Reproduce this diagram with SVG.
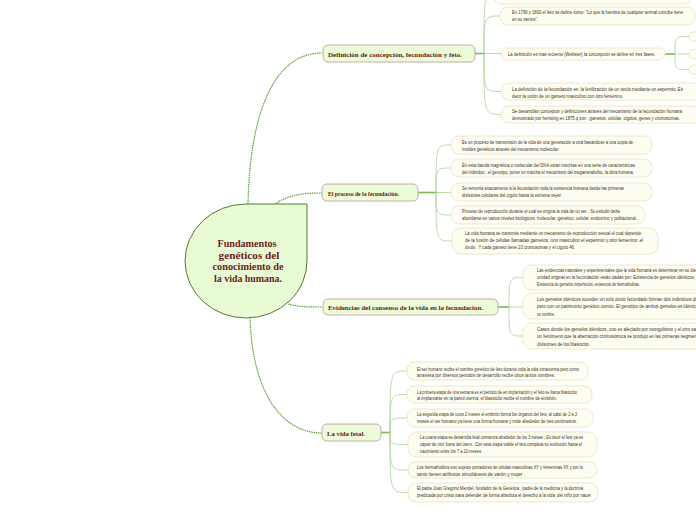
<svg xmlns="http://www.w3.org/2000/svg" width="696" height="520" viewBox="0 0 696 520">
<style>
.leaf{fill:#fdfdf1;stroke:#ebe2bd;stroke-width:0.8}
.lt{font-family:"Liberation Sans",Arial,sans-serif;font-size:4.6px;fill:#3e3228}
.topic{fill:#ecfbd8;stroke:#c4a0a0;stroke-width:0.9}
.tt{font-family:"Liberation Serif",serif;font-weight:bold;font-size:7px;fill:#5e1a1a}
.ct{font-family:"Liberation Serif",serif;font-weight:bold;font-size:10px;fill:#6a1e1e;text-anchor:middle}
.main{stroke:#5f9e43;stroke-width:1.2;stroke-dasharray:1.5 0.8;fill:none}
.stem{stroke:#7bbb50;stroke-width:1.6;fill:none}
.br{stroke:#aad38f;stroke-width:0.8;fill:none}
</style>
<g id="connectors">
<path class="main" d="M248,204 C250,110 275,53 322,53"/>
<path class="main" d="M275,204 C290,194 305,193 322,193"/>
<path class="main" d="M288,304 C300,307 310,307 322,307"/>
<path class="main" d="M250,317 C252,390 280,433 322,433"/>
<path class="stem" d="M475,53.5 H484"/>
<path class="stem" d="M418,192.5 H436"/>
<path class="stem" d="M498,307 H509"/>
<path class="stem" d="M381,432.5 H390"/>
<path class="stem" d="M665,54 H675"/>
<path class="br" d="M484,53.5 C484,-4 484,-4 494,-4"/>
<path class="br" d="M484,53.5 C484,16 484,16 500,16"/>
<path class="br" d="M484,53.5 H501"/>
<path class="br" d="M484,53.5 C484,91.5 484,91.5 501,91.5"/>
<path class="br" d="M484,53.5 C484,114.5 484,114.5 501,114.5"/>
<path class="br" d="M675,54 C675,36.5 675,36.5 689,36.5"/>
<path class="br" d="M675,54 H689"/>
<path class="br" d="M675,54 C675,69.5 675,69.5 689,69.5"/>
<path class="br" d="M436,192.5 C436,145 436,145 451,145"/>
<path class="br" d="M436,192.5 C436,168 436,168 451,168"/>
<path class="br" d="M436,192.5 H451"/>
<path class="br" d="M436,192.5 C436,215 436,215 451,215"/>
<path class="br" d="M436,192.5 C436,241 436,241 452,241"/>
<path class="br" d="M509,307 C509,277.5 509,277.5 523,277.5"/>
<path class="br" d="M509,307 H523"/>
<path class="br" d="M509,307 C509,336 509,336 523,336"/>
<path class="br" d="M390,432.5 C390,371 390,371 407,371"/>
<path class="br" d="M390,432.5 C390,394.5 390,394.5 407,394.5"/>
<path class="br" d="M390,432.5 C390,418 390,418 407,418"/>
<path class="br" d="M390,432.5 C390,444.5 390,444.5 408,444.5"/>
<path class="br" d="M390,432.5 C390,470 390,470 408,470"/>
<path class="br" d="M390,432.5 C390,492.5 390,492.5 408,492.5"/>
</g>
<g id="central">
<path d="M246,204 L307,204 L307,260 A61,57 0 1 1 246,204 Z" fill="#e8fbd5" stroke="#4f7d2f" stroke-width="1"/>
<text class="ct" x="247" y="247" textLength="59" lengthAdjust="spacingAndGlyphs">Fundamentos</text>
<text class="ct" x="249" y="258.5" textLength="61" lengthAdjust="spacingAndGlyphs">genéticos del</text>
<text class="ct" x="248" y="270" textLength="71" lengthAdjust="spacingAndGlyphs">conocimiento de</text>
<text class="ct" x="248" y="281.5" textLength="68" lengthAdjust="spacingAndGlyphs">la vida humana.</text>
</g>
<g id="topic1">
<rect class="topic" x="323" y="45" width="152" height="17" rx="5"/>
<text class="tt" x="328" y="56.5" textLength="134" lengthAdjust="spacingAndGlyphs">Definición de concepción, fecundación y feto.</text>
</g>
<g id="topic2">
<rect class="topic" x="322" y="184" width="96" height="17" rx="5"/>
<text class="tt" x="328" y="195.5" textLength="71" lengthAdjust="spacingAndGlyphs">El proceso de la fecundación.</text>
</g>
<g id="topic3">
<rect class="topic" x="323" y="299" width="175" height="16" rx="5"/>
<text class="tt" x="328" y="310" textLength="155" lengthAdjust="spacingAndGlyphs">Evidencias del consenso de la vida en la fecundación.</text>
</g>
<g id="topic4">
<rect class="topic" x="322" y="424" width="59" height="17" rx="5"/>
<text class="tt" x="327" y="435.5" textLength="38" lengthAdjust="spacingAndGlyphs">La vida fetal.</text>
</g>
<g id="n1a"><rect class="leaf" x="494" y="-12" width="197" height="16" rx="7"/></g>
<g id="n1b"><rect class="leaf" x="500" y="7" width="195" height="18" rx="8"/>
<text class="lt" x="512" y="14" textLength="171" lengthAdjust="spacingAndGlyphs">En 1790 y 1800 el feto se define como: "Lo que la hembra de cualquier animal concibe tiene</text>
<text class="lt" x="512" y="21" textLength="26" lengthAdjust="spacingAndGlyphs">en su vientre".</text></g>
<g id="n1c"><rect class="leaf" x="501" y="48" width="164" height="12" rx="6"/>
<text class="lt" x="508" y="55.5" textLength="147" lengthAdjust="spacingAndGlyphs">La definición es mas reciente (Webster) la concepción se define en tres fases.</text></g>
<g id="n1c1"><rect class="leaf" x="689" y="32" width="20" height="9" rx="4"/></g>
<g id="n1c2"><rect class="leaf" x="689" y="49.5" width="20" height="9" rx="4"/></g>
<g id="n1c3"><rect class="leaf" x="689" y="65" width="20" height="9" rx="4"/></g>
<g id="n1d"><rect class="leaf" x="501" y="83" width="200" height="17" rx="8"/>
<text class="lt" x="512" y="90.5" textLength="171" lengthAdjust="spacingAndGlyphs">La definición de la fecundación es: la fertilización de un óvulo mediante un espermio. Es</text>
<text class="lt" x="512" y="97.5" textLength="111" lengthAdjust="spacingAndGlyphs">decir la unión de un gameto masculino con otro femenino.</text></g>
<g id="n1e"><rect class="leaf" x="501" y="106" width="200" height="17" rx="8"/>
<text class="lt" x="512" y="113" textLength="170" lengthAdjust="spacingAndGlyphs">Se desarrollan conceptos y definiciones através del mecanismo de la fecundación humana</text>
<text class="lt" x="512" y="120" textLength="168" lengthAdjust="spacingAndGlyphs">demostrado por hertwing en 1875 q son : gametos, células, cigotos, genes y cromosomas.</text></g>
<g id="n2a"><rect class="leaf" x="451" y="136" width="201" height="18" rx="8"/>
<text class="lt" x="462" y="143.5" textLength="171" lengthAdjust="spacingAndGlyphs">Es un proceso de transmisión de la vida de una generación a otra basándose a una copia de</text>
<text class="lt" x="462" y="150.5" textLength="97" lengthAdjust="spacingAndGlyphs">moldes genéticos através del mecanismo molecular.</text></g>
<g id="n2b"><rect class="leaf" x="451" y="159" width="201" height="18" rx="8"/>
<text class="lt" x="462" y="166.5" textLength="173" lengthAdjust="spacingAndGlyphs">En esta banda magnética o molecular del DNA están inscritas en una serie de caracteristicas</text>
<text class="lt" x="462" y="173.5" textLength="172" lengthAdjust="spacingAndGlyphs">del individuo : el genotipo, poner en marcha el mecanismo del megametabolito, la obra humana.</text></g>
<g id="n2c"><rect class="leaf" x="451" y="183" width="201" height="18" rx="8"/>
<text class="lt" x="462" y="190" textLength="162" lengthAdjust="spacingAndGlyphs">Se remonta exactamente a la fecundación toda la existencia humana desde las primeras</text>
<text class="lt" x="462" y="197" textLength="100" lengthAdjust="spacingAndGlyphs">divisiones celulares del cigoto hasta la extrema vejez.</text></g>
<g id="n2d"><rect class="leaf" x="451" y="206" width="194" height="18" rx="8"/>
<text class="lt" x="462" y="213" textLength="158" lengthAdjust="spacingAndGlyphs">Proceso de reproducción durante el cual se origina la vida de un ser . Su estudio debe</text>
<text class="lt" x="462" y="220" textLength="175" lengthAdjust="spacingAndGlyphs">abordarse en varios niveles biológicos: molecular, genético, celular, endocrino y poblacional.</text></g>
<g id="n2e"><rect class="leaf" x="452" y="228" width="206" height="26" rx="9"/>
<text class="lt" x="465" y="235" textLength="176" lengthAdjust="spacingAndGlyphs">La vida humana se transmite mediante un mecanismo de reproducción sexual el cual depende</text>
<text class="lt" x="465" y="242" textLength="178" lengthAdjust="spacingAndGlyphs">de la fusión de células llamadas gametos; uno masculino el espermio y otro femenino: el</text>
<text class="lt" x="465" y="249" textLength="110" lengthAdjust="spacingAndGlyphs">óvulo . Y cada gameto tiene 23 cromosomas y el cigoto 46.</text></g>
<g id="n3a"><rect class="leaf" x="523" y="265" width="185" height="25" rx="9"/>
<text class="lt" x="537" y="272" textLength="170" lengthAdjust="spacingAndGlyphs">Las evidencias naturales y experimentales que la vida humana es determinar en su identidad</text>
<text class="lt" x="537" y="279" textLength="158" lengthAdjust="spacingAndGlyphs">unidad original en la fecundación están dadas por: Existencia de gemelos idénticos,</text>
<text class="lt" x="537" y="286" textLength="103" lengthAdjust="spacingAndGlyphs">Existencia de gemelos imperfectos, existencia de hermafroditas.</text></g>
<g id="n3b"><rect class="leaf" x="523" y="293" width="185" height="26" rx="9"/>
<text class="lt" x="537" y="301" textLength="172" lengthAdjust="spacingAndGlyphs">Los gemelos idénticos suceden un solo óvulo fecundado forman dos individuos distintos</text>
<text class="lt" x="537" y="308" textLength="165" lengthAdjust="spacingAndGlyphs">pero con un patrimonio genético común. El genotipo de ambos gemelos es idéntico a</text>
<text class="lt" x="537" y="315.5" textLength="18" lengthAdjust="spacingAndGlyphs">su nombre.</text></g>
<g id="n3c"><rect class="leaf" x="523" y="323" width="185" height="26" rx="9"/>
<text class="lt" x="537" y="331" textLength="165" lengthAdjust="spacingAndGlyphs">Casos donde los gemelos idénticos, uno es afectado por mongolismo y el otro sano.</text>
<text class="lt" x="537" y="338" textLength="176" lengthAdjust="spacingAndGlyphs">un fenómeno que la aberración cromosómica se produjo en las primeras segmentaciones</text>
<text class="lt" x="537" y="345.5" textLength="53" lengthAdjust="spacingAndGlyphs">divisiones de los blastocito.</text></g>
<g id="n4a"><rect class="leaf" x="407" y="362" width="181" height="18" rx="8"/>
<text class="lt" x="417" y="370.5" textLength="162" lengthAdjust="spacingAndGlyphs">El ser humano recibe el nombre genético de feto durante toda la vida intrauterina pero como</text>
<text class="lt" x="417" y="377" textLength="138" lengthAdjust="spacingAndGlyphs">atraviesa por diversos periodos de desarrollo recibe otros tantos nombres.</text></g>
<g id="n4b"><rect class="leaf" x="407" y="386" width="185" height="17" rx="8"/>
<text class="lt" x="417" y="393.5" textLength="161" lengthAdjust="spacingAndGlyphs">La primera etapa de una semana es el periodo de en implantación y el feto se llama blastocito.</text>
<text class="lt" x="417" y="400" textLength="140" lengthAdjust="spacingAndGlyphs">al implantarse en la pared uterina, el blastocito recibe el nombre de embrión.</text></g>
<g id="n4c"><rect class="leaf" x="407" y="409" width="186" height="18" rx="8"/>
<text class="lt" x="417" y="415.5" textLength="160" lengthAdjust="spacingAndGlyphs">La segunda etapa de unos 2 meses el embrión forma los órganos del feto, al cabo de 2 a 3</text>
<text class="lt" x="417" y="422.5" textLength="160" lengthAdjust="spacingAndGlyphs">meses el ser humano ya tiene una forma humana y mide alrededor de tres centimetros.</text></g>
<g id="n4d"><rect class="leaf" x="408" y="432" width="189" height="25" rx="9"/>
<text class="lt" x="420" y="438.5" textLength="163" lengthAdjust="spacingAndGlyphs">La cuarta etapa se desarrolla fetal comienza alrededor de los 3 meses . Es decir el feto ya es</text>
<text class="lt" x="420" y="445.5" textLength="162" lengthAdjust="spacingAndGlyphs">capaz de vivir fuera del útero . Con esta etapa viable el feto completa su evolución hasta el</text>
<text class="lt" x="420" y="452.5" textLength="62" lengthAdjust="spacingAndGlyphs">nacimiento entre los 7 a 10 meses.</text></g>
<g id="n4e"><rect class="leaf" x="408" y="462" width="189" height="16" rx="8"/>
<text class="lt" x="417" y="468.5" textLength="166" lengthAdjust="spacingAndGlyphs">Los hermafroditos son sujetos portadores de células masculinas XY y femeninas XX y por lo</text>
<text class="lt" x="417" y="475.5" textLength="108" lengthAdjust="spacingAndGlyphs">tanto tienen atributos simultáneos de varón y mujer .</text></g>
<g id="n4f"><rect class="leaf" x="408" y="483" width="190" height="19" rx="8"/>
<text class="lt" x="417" y="490" textLength="166" lengthAdjust="spacingAndGlyphs">El padre Juan Gregorio Mendel, fundador de la Genética , padre de la medicina y la doctrina</text>
<text class="lt" x="417" y="497" textLength="174" lengthAdjust="spacingAndGlyphs">predicada por cristo para defender de forma absoluta el derecho a la vida, del niño por nacer</text></g>
</svg>
